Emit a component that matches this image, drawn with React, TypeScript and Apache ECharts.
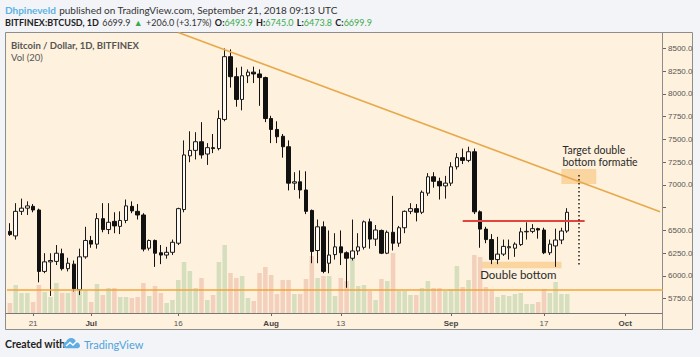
import React, { useEffect, useRef } from "react";
import * as echarts from "echarts";

// ---------- DATA ----------
const START_DATE = "2018-06-17";
const END_DATE = "2018-10-07";

// Daily candles, 2018-06-17 .. 2018-09-21 (BITFINEX:BTCUSD, 1D)
const opens = [
  6490, 6440, 6710, 6745, 6765, 6725, 6050, 6155, 6160, 6245, 6080, 6130, 5850, 6210,
  6390, 6350, 6630, 6510, 6600, 6545, 6610, 6765, 6710, 6670, 6305, 6390, 6255, 6230, 6260, 6360,
  6730, 7320, 7380, 7475, 7340, 7410, 7400, 7720, 8410, 8190, 7940, 8200, 8240, 8220, 8180,
  7730, 7610, 7535, 7420, 7020, 7035, 6945, 6720, 6280, 6540, 6140, 6235, 6320, 6255, 6195, 6275,
  6315, 6595, 6405, 6500, 6250, 6480, 6360, 6530, 6710, 6740, 6700, 6910, 7090, 7040, 6990,
  7020, 7200, 7300, 7270, 7365, 6705, 6515, 6400, 6180, 6240, 6310, 6305, 6345, 6485, 6490, 6520,
  6505, 6255, 6330, 6395, 6493.9,
];
const highs = [
  6580, 6800, 6850, 6820, 6790, 6740, 6250, 6250, 6340, 6300, 6200, 6170, 6300, 6540,
  6440, 6690, 6800, 6800, 6700, 6710, 6840, 6820, 6790, 6690, 6400, 6400, 6340, 6320, 6400, 6750,
  7490, 7590, 7580, 7690, 7460, 7560, 7820, 8500, 8490, 8290, 8300, 8270, 8300, 8270, 8190,
  7760, 7700, 7560, 7490, 7140, 7160, 7150, 6730, 6620, 6600, 6500, 6470, 6500, 6270, 6620, 6470,
  6610, 6630, 6560, 6510, 6500, 6880, 6550, 6720, 6800, 6790, 6940, 7130, 7140, 7080, 7100,
  7250, 7350, 7400, 7420, 7400, 6720, 6540, 6460, 6430, 6400, 6400, 6370, 6530, 6590, 6570, 6530,
  6530, 6400, 6520, 6530, 6745,
];
const lows = [
  6440, 6400, 6670, 6670, 6700, 5930, 6030, 5780, 6120, 6060, 6050, 5830, 5790, 6190,
  6310, 6300, 6480, 6460, 6470, 6460, 6580, 6690, 6620, 6270, 6280, 6100, 6130, 6190, 6230, 6340,
  6700, 7250, 7280, 7290, 7220, 7350, 7380, 7700, 8070, 7860, 7820, 8120, 8120, 7870, 7690,
  7460, 7460, 7300, 6940, 6945, 6850, 6680, 6140, 6140, 6030, 6030, 6180, 6120, 5870, 6170, 6230,
  6290, 6300, 6330, 6240, 6240, 6280, 6320, 6470, 6680, 6600, 6680, 6880, 6970, 6840, 6850,
  6990, 7170, 7230, 7250, 6680, 6310, 6360, 6130, 6130, 6220, 6180, 6210, 6330, 6400, 6470, 6410,
  6240, 6230, 6100, 6350, 6473.8,
];
const closes = [
  6455, 6710, 6745, 6770, 6725, 6050, 6155, 6170, 6250, 6080, 6140, 5860, 6210, 6390,
  6350, 6630, 6510, 6590, 6550, 6610, 6770, 6715, 6670, 6295, 6390, 6250, 6230, 6260, 6370, 6740,
  7330, 7380, 7475, 7330, 7410, 7400, 7730, 8410, 8190, 7940, 8200, 8240, 8220, 8180, 7730,
  7610, 7530, 7420, 7020, 7035, 6945, 6710, 6270, 6540, 6050, 6230, 6320, 6255, 6195, 6275, 6320,
  6595, 6405, 6505, 6250, 6480, 6360, 6530, 6710, 6740, 6700, 6920, 7090, 7040, 6990, 7020,
  7200, 7300, 7270, 7365, 6705, 6515, 6400, 6180, 6240, 6325, 6322, 6350, 6485, 6490, 6520, 6505,
  6255, 6350, 6395, 6494, 6699.9,
];
const volumes = [
  10000, 28000, 20000, 20000, 11000, 28000, 21000, 16000, 30000, 20000, 20000, 23000, 25000, 23000,
  11000, 29000, 18000, 25000, 25000, 16000, 16000, 15000, 16000, 30000, 17000, 27000, 20000, 10000, 13000, 33000,
  51000, 42000, 25000, 35000, 13000, 18000, 51000, 68000, 40000, 35000, 37000, 15000, 12000, 40000, 46000,
  38000, 19000, 33000, 33000, 19000, 19000, 34000, 57000, 35000, 37000, 37000, 17000, 35000, 32000, 58000, 27000,
  28000, 22000, 13000, 34000, 32000, 60000, 22000, 22000, 18000, 18000, 25000, 32000, 25000, 25000, 22000,
  24000, 47000, 26000, 33000, 58000, 56000, 26000, 23000, 16000, 18000, 17000, 19000, 20000, 9000, 9000, 11000,
  24000, 20000, 31000, 19000, 19000,
];

const yTicks = [5750, 6000, 6250, 6500, 6750, 7000, 7250, 7500, 7750, 8000, 8250, 8500];
// 6750.0 sits under the last-price tag in the reference, so its label is not shown
const yLabelValues = [5750, 6000, 6250, 6500, 7000, 7250, 7500, 7750, 8000, 8250, 8500];
const xLabelDates = ["2018-06-21", "2018-07-01", "2018-07-16", "2018-08-01", "2018-08-13", "2018-09-01", "2018-09-17", "2018-10-01"];
const xLabelTexts = ["21", "Jul", "16", "Aug", "13", "Sep", "17", "Oct"];
const monthLabels = ["Jul", "Aug", "Sep", "Oct"];

const PRICE_MIN = 5593;
const PRICE_MAX = 8681;
const VOL_MAX = 281000;

// annotations (drawn in data coordinates)
const supportPrice = 5850;
const trendStart: [string, number] = ["2018-07-16", 8675];
const trendEnd: [string, number] = ["2018-10-07", 6705];
const necklineFrom = "2018-09-03";
const necklineTo = "2018-09-24";
const necklinePrice = 6608;
const dbFrom = "2018-09-06";
const dbTo = "2018-09-20";
const dbLow = 6085;
const dbHigh = 6157;
const tgFrom = "2018-09-20";
const tgTo = "2018-09-26";
const tgLow = 7010;
const tgHigh = 7176;
const targetDate = "2018-09-23";
const targetFrom = 6100;
const targetTo = 7110;
const lastPrice = 6699.9;

// ---------- BUILD ----------
function buildDates(): string[] {
  const out: string[] = [];
  const s = Date.parse(START_DATE + "T00:00:00Z");
  const e = Date.parse(END_DATE + "T00:00:00Z");
  for (let t = s; t <= e; t += 86400000) out.push(new Date(t).toISOString().slice(0, 10));
  return out;
}

const BG = "#FEF1DD";
const FONT = "Lato, 'Liberation Sans', sans-serif";
const AXIS_FONT = "'Liberation Sans', Arial, sans-serif";

function buildOption() {
  const axisDates = buildDates();
  const labelMap: Record<string, string> = {};
  xLabelDates.forEach((d, i) => (labelMap[d] = xLabelTexts[i]));
  const showLabel = (_i: number, v: string) => v in labelMap;

  const candles = opens.map((o, i) => [o, closes[i], lows[i], highs[i]]);
  const vols = volumes.map((v, i) => ({
    value: v,
    itemStyle: { color: closes[i] >= opens[i] ? "#D5DFBE" : "#F3D0BC" },
  }));

  return {
    animation: false,
    textStyle: { fontFamily: FONT },
    grid: { left: 7, right: 37, top: 32, bottom: 44, containLabel: false },
    xAxis: {
      type: "category",
      data: axisDates,
      boundaryGap: true,
      axisLine: { show: false },
      axisTick: { show: true, interval: showLabel, alignWithLabel: true, length: 3, lineStyle: { color: "#666" } },
      axisLabel: {
        interval: showLabel,
        margin: 6,
        fontSize: 8,
        color: "#555",
        fontFamily: AXIS_FONT,
        formatter: (v: string) => {
          const t = labelMap[v] || "";
          return monthLabels.includes(t) ? `{m|${t}}` : t;
        },
        rich: { m: { fontWeight: "bold", fontSize: 8, color: "#444", fontFamily: AXIS_FONT } },
      },
      splitLine: { show: false },
    },
    yAxis: [
      {
        type: "value",
        position: "right",
        min: PRICE_MIN,
        max: PRICE_MAX,
        splitLine: { show: false },
        axisLine: { show: false },
        axisTick: { show: true, length: 3, customValues: yTicks, lineStyle: { color: "#666" } },
        axisLabel: {
          customValues: yLabelValues,
          margin: 5,
          fontSize: 8,
          color: "#555",
          fontFamily: AXIS_FONT,
          formatter: (v: number) => v.toFixed(1),
        },
      },
      { type: "value", min: 0, max: VOL_MAX, show: false, splitLine: { show: false } },
    ],
    series: [
      {
        type: "bar",
        xAxisIndex: 0,
        yAxisIndex: 1,
        data: vols,
        barWidth: "78%",
        silent: true,
        z: 1,
      },
      {
        type: "candlestick",
        xAxisIndex: 0,
        yAxisIndex: 0,
        data: candles,
        barWidth: 4,
        z: 3,
        itemStyle: {
          color: "#FFFAF3",
          color0: "#111111",
          borderColor: "#1a1a1a",
          borderColor0: "#111111",
          borderWidth: 1,
        },
        markArea: {
          silent: true,
          data: [
            [
              {
                xAxis: dbFrom,
                yAxis: dbHigh,
                itemStyle: { color: "rgba(246, 190, 110, 0.55)" },
                label: {
                  show: true,
                  formatter: "Double bottom",
                  position: [0, "100%"],
                  align: "left",
                  verticalAlign: "top",
                  fontSize: 11.5,
                  color: "#2a2a2a",
                  fontFamily: FONT,
                },
              },
              { xAxis: dbTo, yAxis: dbLow },
            ],
            [
              {
                xAxis: tgFrom,
                yAxis: tgHigh,
                itemStyle: { color: "rgba(246, 190, 110, 0.55)" },
                label: {
                  show: true,
                  formatter: "Target double\nbottom formatie",
                  position: [1, -1],
                  align: "left",
                  verticalAlign: "bottom",
                  fontSize: 10.5,
                  lineHeight: 12,
                  color: "#2a2a2a",
                  fontFamily: FONT,
                },
              },
              { xAxis: tgTo, yAxis: tgLow },
            ],
          ],
        },
        markLine: {
          silent: true,
          symbol: ["none", "none"],
          label: { show: false },
          data: [
            { yAxis: supportPrice, lineStyle: { color: "#F2A53A", width: 1.6, type: "solid" } },
            [
              { coord: trendStart, lineStyle: { color: "#E7A94B", width: 1.6, type: "solid" } },
              { coord: trendEnd },
            ],
            [
              { coord: [necklineFrom, necklinePrice], lineStyle: { color: "#E0453E", width: 2, type: "solid" } },
              { coord: [necklineTo, necklinePrice] },
            ],
            [
              { coord: [targetDate, targetTo], lineStyle: { color: "#222", width: 1.5, type: [1.5, 2.5] } },
              { coord: [targetDate, targetFrom] },
            ],
            {
              yAxis: lastPrice,
              lineStyle: { opacity: 0 },
              label: {
                show: true,
                position: "end",
                distance: 4,
                formatter: lastPrice.toFixed(1),
                fontSize: 8,
                fontWeight: "bold",
                color: "#222",
                fontFamily: AXIS_FONT,
                backgroundColor: BG,
                padding: [2, 2, 2, 1],
              },
            },
          ],
        },
      },
    ],
    graphic: [
      {
        type: "rect",
        z: -10,
        silent: true,
        shape: { x: 5.5, y: 32.5, width: 687, height: 297 },
        style: { fill: BG, stroke: "#8d8d8d", lineWidth: 1 },
      },
      {
        type: "line",
        z: 5,
        silent: true,
        shape: { x1: 662.5, y1: 32.5, x2: 662.5, y2: 329.5 },
        style: { stroke: "#8d8d8d", lineWidth: 1 },
      },
      {
        type: "line",
        z: 5,
        silent: true,
        shape: { x1: 5.5, y1: 313.5, x2: 662.5, y2: 313.5 },
        style: { stroke: "#777", lineWidth: 1 },
      },
      {
        type: "text",
        z: 10,
        silent: true,
        style: {
          x: 5,
          y: 10,
          verticalAlign: "middle",
          text: "{u|Dhpineveld} {t|published on TradingView.com, September 21, 2018 09:13 UTC}",
          rich: {
            u: { fill: "#5BB2E3", fontSize: 10, fontWeight: "bold", fontFamily: FONT },
            t: { fill: "#333", fontSize: 10, fontFamily: FONT },
          },
        },
      },
      {
        type: "text",
        z: 10,
        silent: true,
        style: {
          x: 5,
          y: 22,
          verticalAlign: "middle",
          text:
            "{b|BITFINEX:BTCUSD, 1D} {n|6699.9} {g|▲} {n|+206.0 (+3.17%)} {b|O:}{g|6493.9} {b|H:}{g|6745.0} {b|L:}{g|6473.8} {b|C:}{g|6699.9}",
          rich: {
            b: { fill: "#222", fontSize: 9, fontWeight: "bold", fontFamily: FONT },
            n: { fill: "#333", fontSize: 9, fontFamily: FONT },
            g: { fill: "#3DAA4A", fontSize: 9, fontFamily: FONT },
          },
        },
      },
      {
        type: "text",
        z: 10,
        silent: true,
        style: {
          x: 11,
          y: 45,
          verticalAlign: "middle",
          text: "Bitcoin / Dollar, 1D, BITFINEX",
          fill: "#555",
          fontSize: 9.5,
          fontWeight: "bold",
          fontFamily: FONT,
        },
      },
      {
        type: "text",
        z: 10,
        silent: true,
        style: {
          x: 11,
          y: 57,
          verticalAlign: "middle",
          text: "Vol (20)",
          fill: "#555",
          fontSize: 9.5,
          fontFamily: FONT,
        },
      },
      {
        type: "text",
        z: 10,
        silent: true,
        style: {
          x: 5,
          y: 344,
          verticalAlign: "middle",
          text: "Created with",
          fill: "#222",
          fontSize: 10.5,
          fontWeight: "bold",
          fontFamily: FONT,
        },
      },
      {
        type: "tvlogo",
        z: 10,
        silent: true,
        x: 63,
        y: 338,
        scaleX: 0.85,
        scaleY: 0.85,
        style: { fill: "#5FAEE3" },
      },
      {
        type: "polyline",
        z: 11,
        silent: true,
        shape: { points: [[66, 346], [70, 342.5], [73, 345], [77, 341]] },
        style: { stroke: "#ffffff", lineWidth: 1.4, fill: "none" },
      },
      {
        type: "text",
        z: 10,
        silent: true,
        style: {
          x: 84,
          y: 344,
          verticalAlign: "middle",
          text: "TradingView",
          fill: "#4FA3DC",
          fontSize: 11,
          fontFamily: FONT,
        },
      },
    ],
  };
}

let logoRegistered = false;
function registerLogo() {
  if (logoRegistered) return;
  const d =
    "M4 12 C1.6 12 0 10.4 0 8.4 C0 6.4 1.6 4.8 3.6 4.8 C4.3 2 6.7 0 9.6 0 C12.6 0 15 2.2 15.4 5.1 C17.9 5.2 20 7 20 9.1 C20 10.7 18.7 12 17 12 Z";
  echarts.graphic.registerShape("tvlogo", (echarts.graphic as any).extendPath(d, {}));
  logoRegistered = true;
}

export default function App() {
  const ref = useRef<HTMLDivElement>(null);
  useEffect(() => {
    if (!ref.current) return;
    registerLogo();
    const chart = echarts.init(ref.current, null, { renderer: "svg" });
    chart.setOption(buildOption() as any);
    return () => chart.dispose();
  }, []);
  return (
    <div
      ref={ref}
      style={{ position: "fixed", left: 0, top: 0, width: 700, height: 357, background: "#F2F4F7" }}
    />
  );
}
